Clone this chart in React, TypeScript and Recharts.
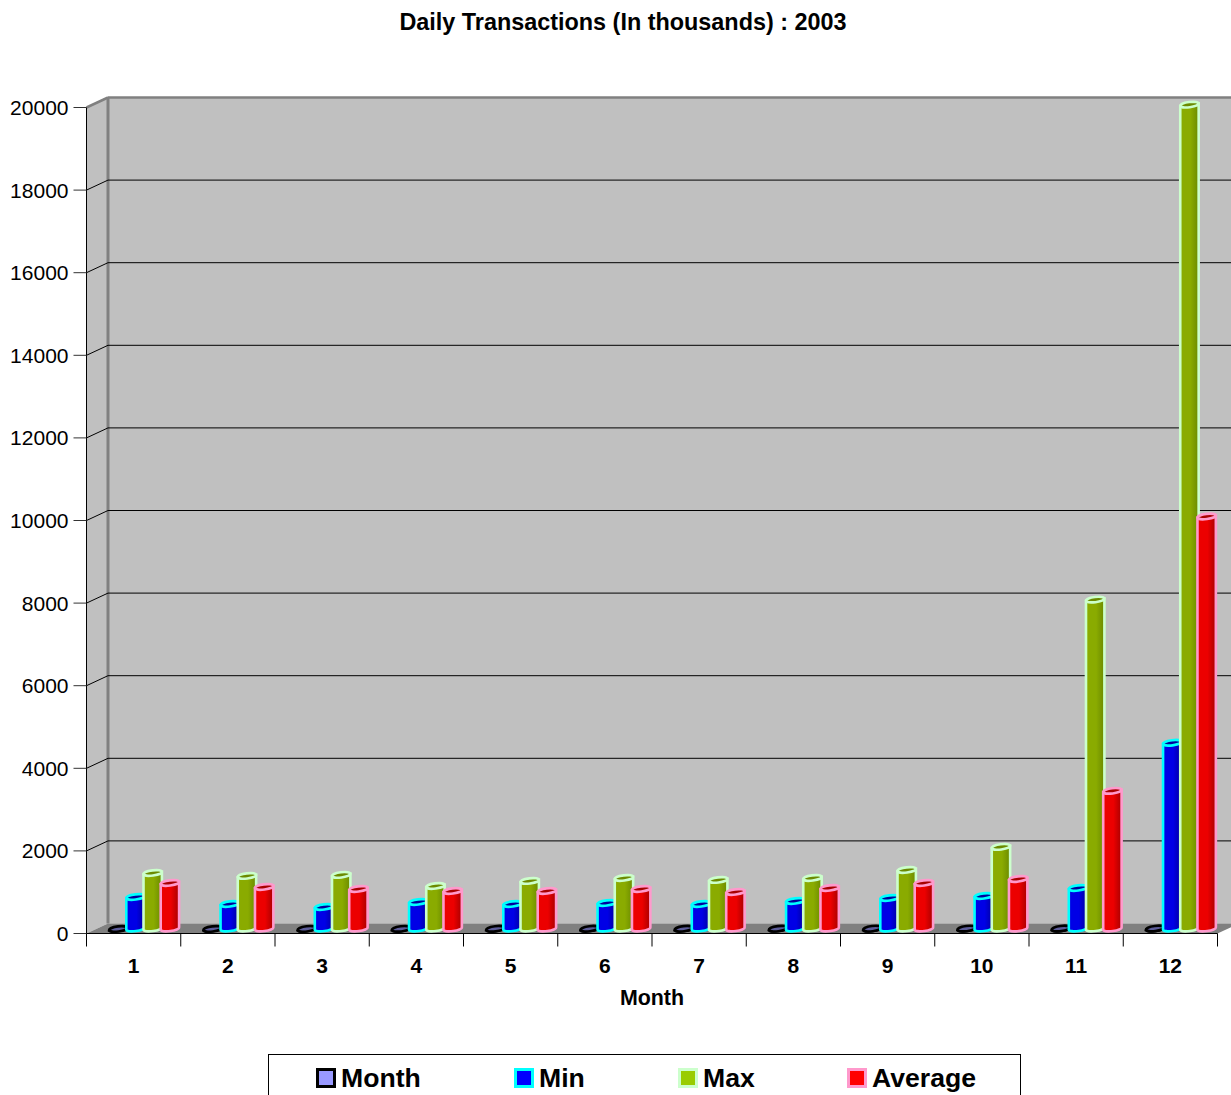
import { Bar, BarChart, CartesianGrid, Customized, Legend, XAxis, YAxis } from 'recharts'

const months = ['1', '2', '3', '4', '5', '6', '7', '8', '9', '10', '11', '12']
const monthValues = [1, 2, 3, 4, 5, 6, 7, 8, 9, 10, 11, 12]
const minValues = [776, 606, 533, 655, 606, 630, 606, 679, 752, 800, 994, 4509]
const maxValues = [1357, 1285, 1310, 1042, 1164, 1236, 1188, 1236, 1430, 1988, 7976, 19960]
const avgValues = [1115, 1018, 970, 921, 921, 970, 897, 994, 1115, 1212, 3345, 9988]
const yTicks = [0, 2000, 4000, 6000, 8000, 10000, 12000, 14000, 16000, 18000, 20000]

const tableData = months.map((month, i) => ({
  month,
  Month: monthValues[i],
  Min: minValues[i],
  Max: maxValues[i],
  Average: avgValues[i],
}))

const FONT = '"Liberation Sans", Arial, sans-serif'
const WIDTH = 1231
const HEIGHT = 1095
const LEFT = 86.5
const RIGHT = 1217.5
const TOP = 107.5
const BOTTOM = 933.5
const DEPTH_X = 21.5
const DEPTH_Y = 10
const BAND = (RIGHT - LEFT) / 12

const STYLES: Record<string, { fill: string; stroke: string; light: string; dark: string; legendX: number }> = {
  Month: { fill: '#9999ff', stroke: '#000000', light: '#8a8ae6', dark: '#5c5c99', legendX: 47 },
  Min: { fill: '#0000ff', stroke: '#00ffff', light: '#0000e6', dark: '#00009c', legendX: 245 },
  Max: { fill: '#99cc00', stroke: '#ccffcc', light: '#8aab00', dark: '#6b8a00', legendX: 409 },
  Average: { fill: '#ff0000', stroke: '#ff99cc', light: '#ec0000', dark: '#a80000', legendX: 578 },
}

function Defs() {
  return (
    <g>
      <defs>
        {Object.keys(STYLES).map((k) => (
          <linearGradient key={k} id={`body-${k}`} x1="0" y1="0" x2="1" y2="0">
            <stop offset="0" stopColor={STYLES[k].light} />
            <stop offset="0.55" stopColor={STYLES[k].light} />
            <stop offset="1" stopColor={STYLES[k].dark} />
          </linearGradient>
        ))}
      </defs>
      <text x={623} y={30} textAnchor="middle" fontFamily={FONT} fontWeight="bold" fontSize={23.4} fill="#000">
        Daily Transactions (In thousands) : 2003
      </text>
    </g>
  )
}

function Walls() {
  const bx = LEFT + DEPTH_X
  const tY = TOP - DEPTH_Y
  const bY = BOTTOM - DEPTH_Y
  return (
    <g>
      <rect x={bx} y={tY} width={WIDTH - bx + 10} height={bY - tY} fill="#c0c0c0" />
      <polygon points={`${LEFT},${TOP} ${bx},${tY} ${bx},${bY} ${LEFT},${BOTTOM}`} fill="#c0c0c0" />
      <polygon points={`${LEFT},${BOTTOM} ${bx},${bY} ${RIGHT + DEPTH_X},${bY} ${RIGHT},${BOTTOM}`} fill="#808080" />
      <line x1={LEFT} y1={TOP} x2={bx} y2={tY} stroke="#808080" strokeWidth={2.5} />
      <line x1={bx} y1={tY} x2={WIDTH + 10} y2={tY} stroke="#808080" strokeWidth={2.5} />
      <line x1={bx} y1={tY} x2={bx} y2={bY} stroke="#808080" strokeWidth={3} />
    </g>
  )
}

// the grid sits under everything else, so the walls go in with its first row
function GridRow(props: any) {
  const { y1, key, index } = props
  const bx = LEFT + DEPTH_X
  const isEdge = Math.abs(y1 - TOP) < 1 || Math.abs(y1 - BOTTOM) < 1
  return (
    <g key={key}>
      {index === 0 && <Walls />}
      {!isEdge && <line x1={LEFT} y1={y1} x2={bx} y2={y1 - DEPTH_Y} stroke="#000" strokeWidth={1} />}
      {!isEdge && <line x1={bx} y1={y1 - DEPTH_Y} x2={WIDTH + 10} y2={y1 - DEPTH_Y} stroke="#000" strokeWidth={1} />}
    </g>
  )
}

function XTick(props: any) {
  const { x, payload, index } = props
  const edge = x + BAND / 2
  return (
    <g>
      {index === 0 && <line x1={LEFT} y1={BOTTOM} x2={LEFT} y2={BOTTOM + 13} stroke="#000" />}
      <line x1={edge} y1={BOTTOM} x2={edge} y2={BOTTOM + 13} stroke="#000" />
      <text x={x} y={BOTTOM + 39} textAnchor="middle" fontFamily={FONT} fontWeight="bold" fontSize={21} fill="#000">
        {payload.value}
      </text>
    </g>
  )
}

// cylinder sitting a little way into the floor
function Cylinder(props: any) {
  const { x, y, width, height, name } = props
  const s = STYLES[name]
  const rx = 9.2
  const ry = 2.6
  const tilt = 1.2
  const cx = x + width / 2 + 10.2
  const top = y - 4.5
  const bottom = y + height - 5
  const body = `M${cx - rx},${top + tilt} L${cx - rx},${bottom + tilt} A${rx},${ry} -7 0 0 ${cx + rx},${bottom - tilt} L${cx + rx},${top - tilt} Z`
  return (
    <g>
      <path d={body} fill={`url(#body-${name})`} stroke={s.stroke} strokeWidth={2.6} />
      <ellipse cx={cx} cy={top} rx={rx} ry={ry} transform={`rotate(-7 ${cx} ${top})`} fill={s.dark} stroke={s.stroke} strokeWidth={2.6} />
    </g>
  )
}

function LegendBox({ payload }: any) {
  return (
    <div style={{ position: 'relative', width: 753, height: 60, border: '1px solid #000', boxSizing: 'border-box', background: '#fff' }}>
      {payload.map((entry: any) => {
        const s = STYLES[entry.value]
        return (
          <div key={entry.value} style={{ position: 'absolute', left: s.legendX, top: 8, display: 'flex', alignItems: 'center', fontFamily: FONT, fontWeight: 'bold', fontSize: 26.6, lineHeight: '30px', color: '#000', whiteSpace: 'nowrap' }}>
            <span style={{ display: 'inline-block', width: 14, height: 14, background: s.fill, border: `3px solid ${s.stroke}`, marginRight: 5 }} />
            {entry.value}
          </div>
        )
      })}
    </div>
  )
}

export default function App() {
  return (
    <div style={{ position: 'absolute', left: 0, top: 0, width: WIDTH, height: HEIGHT, overflow: 'hidden', background: '#fff' }}>
      <BarChart
        width={WIDTH}
        height={HEIGHT}
        data={tableData}
        barSize={17.2}
        barGap={0}
        margin={{ top: TOP, right: WIDTH - RIGHT, bottom: HEIGHT - BOTTOM - 80, left: 0 }}
      >
        <Customized component={Defs} />
        <CartesianGrid horizontal={GridRow} vertical={false} />
        <YAxis
          width={LEFT}
          domain={[0, 20000]}
          ticks={yTicks}
          interval={0}
          tickSize={13}
          tickMargin={5}
          tick={{ fontFamily: FONT, fontSize: 21, fill: '#000' }}
          tickLine={{ stroke: '#333' }}
          axisLine={{ stroke: '#000' }}
        />
        <XAxis
          dataKey="month"
          height={80}
          interval={0}
          tickLine={false}
          axisLine={{ stroke: '#000' }}
          tick={<XTick />}
          label={{ value: 'Month', position: 'insideBottom', offset: 9, fontFamily: FONT, fontWeight: 'bold', fontSize: 21.4, fill: '#000' }}
        />
        <Legend
          layout="horizontal"
          align="center"
          verticalAlign="middle"
          content={<LegendBox />}
          wrapperStyle={{ left: 268, top: 1054, width: 753, height: 60 }}
        />
        {Object.keys(STYLES).map((k) => (
          <Bar key={k} dataKey={k} name={k} fill={STYLES[k].fill} isAnimationActive={false} shape={<Cylinder />} />
        ))}
      </BarChart>
    </div>
  )
}
